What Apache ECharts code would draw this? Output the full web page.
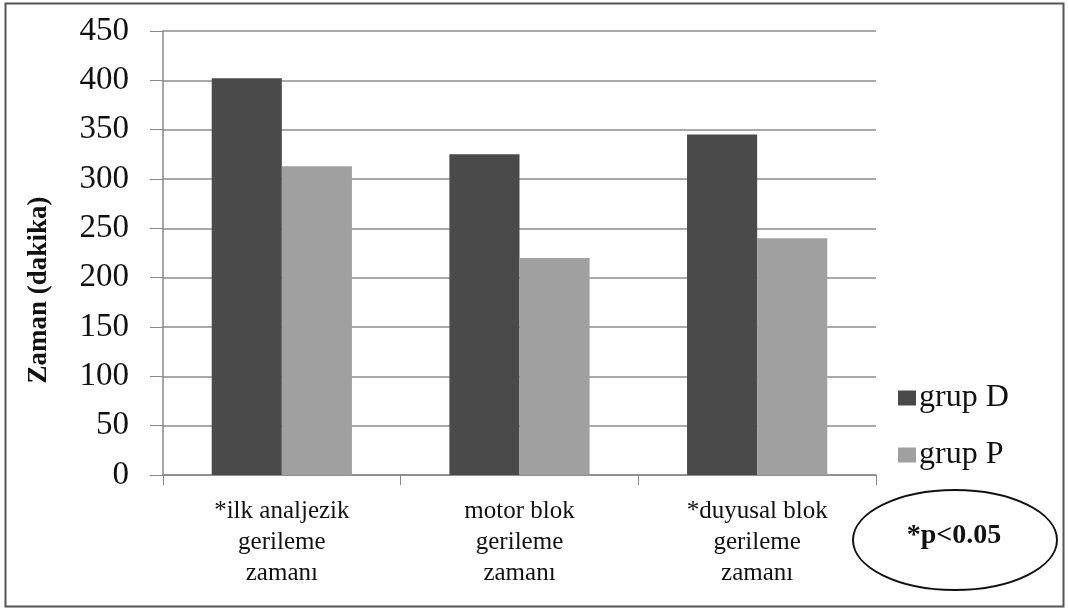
<!DOCTYPE html>
<html lang="tr">
<head>
    <meta charset="UTF-8">
    <title>Zaman (dakika)</title>
    <script src="https://cdn.jsdelivr.net/npm/echarts@6/dist/echarts.min.js"></script>
    <style type="text/css">
        html, body { margin: 0; padding: 0; background: #fff; }
        #chart { width: 1068px; height: 610px; }
    </style>
</head>
<body>
<div id="chart"></div>
<script type="text/javascript">
    // data
    var categories = ['*ilk analjezik\ngerileme\nzamanı', 'motor blok\ngerileme\nzamanı', '*duyusal blok\ngerileme\nzamanı'];
    var grupD = [402, 325, 345];
    var grupP = [313, 220, 240];
    var yTicks = [0, 50, 100, 150, 200, 250, 300, 350, 400, 450];

    var serif = '"Liberation Serif", "DejaVu Serif", serif';
    var chart = echarts.init(document.getElementById('chart'));

    var option = {
        backgroundColor: '#fff',
        animation: false,
        grid: { left: 163, right: 192, top: 31, bottom: 135 },
        legend: {
            orient: 'vertical',
            left: 893,
            top: 377,
            itemWidth: 18,
            itemHeight: 15,
            itemGap: 25,
            icon: 'rect',
            textStyle: { fontFamily: serif, fontSize: 32, color: '#111', padding: [0, 0, 0, -2] },
            data: ['grup D', 'grup P']
        },
        xAxis: {
            type: 'category',
            data: categories,
            axisLine: { lineStyle: { color: '#888', width: 1.5 } },
            axisTick: { show: true, length: 10, lineStyle: { color: '#888' } },
            axisLabel: {
                fontFamily: serif, fontSize: 25, color: '#111',
                lineHeight: 31, margin: 21
            }
        },
        yAxis: {
            type: 'value',
            min: yTicks[0],
            max: yTicks[yTicks.length - 1],
            interval: 50,
            axisLine: { show: true, lineStyle: { color: '#888', width: 1.5 } },
            axisTick: { show: true, length: 13, lineStyle: { color: '#888' } },
            splitLine: { lineStyle: { color: '#8c8c8c', width: 1.5 } },
            axisLabel: { fontFamily: serif, fontSize: 33, color: '#111', margin: 34 }
        },
        series: [{
            name: 'grup D',
            type: 'bar',
            data: grupD,
            barGap: '0%',
            barCategoryGap: '41%',
            itemStyle: { color: '#4a4a4a' }
        }, {
            name: 'grup P',
            type: 'bar',
            data: grupP,
            barGap: '0%',
            barCategoryGap: '41%',
            itemStyle: { color: '#a0a0a0' }
        }],
        graphic: [{
            type: 'rect',
            shape: { x: 5.5, y: 3.5, width: 1058, height: 603 },
            style: { fill: 'none', stroke: '#555', lineWidth: 2 },
            silent: true
        }, {
            // y axis title, sits a bit below the grid middle like the original
            type: 'text',
            x: 39,
            y: 290,
            rotation: Math.PI / 2,
            style: {
                text: 'Zaman (dakika)', fontFamily: serif, fontSize: 27, fontWeight: 'bold',
                fill: '#111', align: 'center', verticalAlign: 'middle'
            }
        }, {
            type: 'ellipse',
            shape: { cx: 955, cy: 540, rx: 102, ry: 50 },
            style: { fill: '#fff', stroke: '#111', lineWidth: 2 }
        }, {
            type: 'text',
            x: 954,
            y: 536,
            style: {
                text: '*p<0.05', fontFamily: serif, fontSize: 28, fontWeight: 'bold',
                fill: '#111', align: 'center', verticalAlign: 'middle'
            }
        }]
    };
    chart.setOption(option);
</script>
</body>
</html>
